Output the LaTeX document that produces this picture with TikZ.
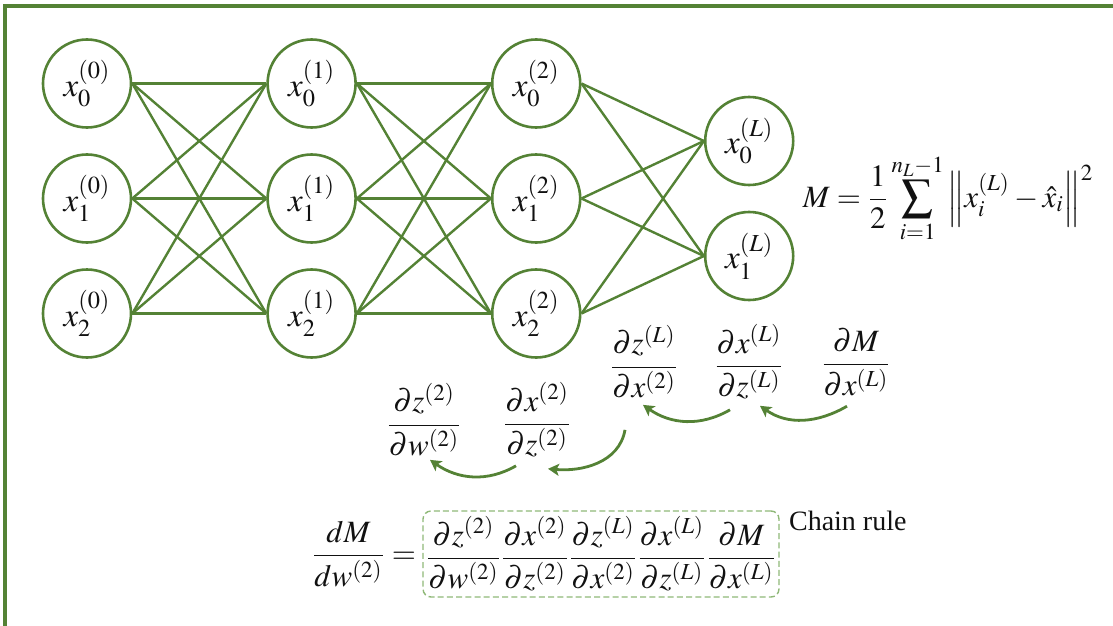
\documentclass[tikz,border=0pt]{standalone}
\usepackage{amsmath,amssymb}
\usepackage{mathptmx}
\usepackage[no-math]{fontspec}
\setmainfont{Liberation Serif}
\usetikzlibrary{arrows.meta,positioning,calc}
\definecolor{leaf}{HTML}{548235}
\definecolor{leaflight}{HTML}{8FB878}
\definecolor{ink}{HTML}{111111}
\tikzset{
  every node/.style={font=\fontsize{15.5}{18}\selectfont, text=ink},
  neuron/.style={circle, draw=leaf, line width=1.3pt, minimum size=44pt, inner sep=0pt, fill=white, font=\fontsize{16.5}{19}\selectfont},
  edge/.style={draw=leaf, line width=1.2pt},
  term/.style={inner sep=0pt},
  backarrow/.style={-{Stealth[length=5.5pt,width=6pt,inset=1.3pt]}, line width=1.4pt, draw=leaf},
  chainbox/.style={draw=leaflight, dash pattern=on 3pt off 1.6pt, rounded corners=4pt, line width=0.7pt, minimum height=43pt, inner xsep=1.5pt, inner ysep=1pt},
  note/.style={inner sep=0pt, font=\fontsize{14}{17}\selectfont},
  frame/.style={draw=leaf, line width=1.8pt},
}

\begin{document}
\begin{tikzpicture}[x=0.5pt,y=0.5pt,node distance=12.2pt and 67pt]
\useasboundingbox (0,0) rectangle (1113,-626);
\draw[frame] (5,-626)--(5,-6)--(1113,-6);
% network
\node[neuron] (in0) at (87,-83.5) {$x_0^{(0)}$};
\node[neuron, below=of in0] (in1) {$x_1^{(0)}$};
\node[neuron, below=of in1] (in2) {$x_2^{(0)}$};
\node[neuron, right=of in0] (h10) {$x_0^{(1)}$};
\node[neuron, below=of h10] (h11) {$x_1^{(1)}$};
\node[neuron, below=of h11] (h12) {$x_2^{(1)}$};
\node[neuron, right=of h10] (h20) {$x_0^{(2)}$};
\node[neuron, below=of h20] (h21) {$x_1^{(2)}$};
\node[neuron, below=of h21] (h22) {$x_2^{(2)}$};
\node[neuron] (out0) at ($(h20)!0.5!(h21)+(213,0)$) {$x_0^{(L)}$};
\node[neuron] (out1) at ($(h21)!0.5!(h22)+(213,0)$) {$x_1^{(L)}$};
\draw[edge](in0.east)--(h10.west);\draw[edge](in0.east)--(h11.west);\draw[edge](in0.east)--(h12.west);
\draw[edge](in1.east)--(h10.west);\draw[edge](in1.east)--(h11.west);\draw[edge](in1.east)--(h12.west);
\draw[edge](in2.east)--(h10.west);\draw[edge](in2.east)--(h11.west);\draw[edge](in2.east)--(h12.west);
\draw[edge](h10.east)--(h20.west);\draw[edge](h10.east)--(h21.west);\draw[edge](h10.east)--(h22.west);
\draw[edge](h11.east)--(h20.west);\draw[edge](h11.east)--(h21.west);\draw[edge](h11.east)--(h22.west);
\draw[edge](h12.east)--(h20.west);\draw[edge](h12.east)--(h21.west);\draw[edge](h12.east)--(h22.west);
\draw[edge](h20.east)--(out0.west);\draw[edge](h20.east)--(out1.west);
\draw[edge](h21.east)--(out0.west);\draw[edge](h21.east)--(out1.west);
\draw[edge](h22.east)--(out0.west);\draw[edge](h22.east)--(out1.west);
\node[term, anchor=west] (loss) at ($(out0.east)!0.5!(out1.east)+(8,0)$) {$\displaystyle M=\frac{1}{2}\sum_{i=1}^{n_L-1}\left\|x_i^{(L)}-\hat{x}_i\right\|^2$};
% backward terms
\node[term] (f1) at (644,-362) {$\dfrac{\partial z^{(L)}}{\partial x^{(2)}}$};
\node[term] (f2) at (749,-362) {$\dfrac{\partial x^{(L)}}{\partial z^{(L)}}$};
\node[term] (f3) at (856,-362) {$\dfrac{\partial M}{\partial x^{(L)}}$};
\node[term] (g1) at (424,-420) {$\dfrac{\partial z^{(2)}}{\partial w^{(2)}}$};
\node[term] (g2) at (537,-420) {$\dfrac{\partial x^{(2)}}{\partial z^{(2)}}$};
\draw[backarrow] ([xshift=-4.5pt,yshift=-5pt]f3.south) to[out=-150,in=-35] ([xshift=5.5pt,yshift=-3pt]f2.south);
\draw[backarrow] ([xshift=-9.5pt,yshift=-5pt]f2.south) to[out=-150,in=-35] ([xshift=-0.5pt,yshift=-3pt]f1.south);
\draw[backarrow] ([xshift=-9.5pt,yshift=-15.5pt]f1.south) to[out=-100,in=-5] ([xshift=5.5pt,yshift=-5.5pt]g2.south);
\draw[backarrow] ([xshift=-10.5pt,yshift=-4pt]g2.south) to[out=-150,in=-35] ([xshift=3pt,yshift=-1.5pt]g1.south);
% chain rule
\node[chainbox] (chain) at (601,-554) {$\dfrac{\partial z^{(2)}}{\partial w^{(2)}}\dfrac{\partial x^{(2)}}{\partial z^{(2)}}\dfrac{\partial z^{(L)}}{\partial x^{(2)}}\dfrac{\partial x^{(L)}}{\partial z^{(L)}}\dfrac{\partial M}{\partial x^{(L)}}$};
\node[term, left=3pt of chain] (lhs) {$\dfrac{dM}{dw^{(2)}}=$};
\node[note, anchor=north west] (rule) at ([xshift=4.5pt]chain.north east) {Chain rule};
\end{tikzpicture}
\end{document}
